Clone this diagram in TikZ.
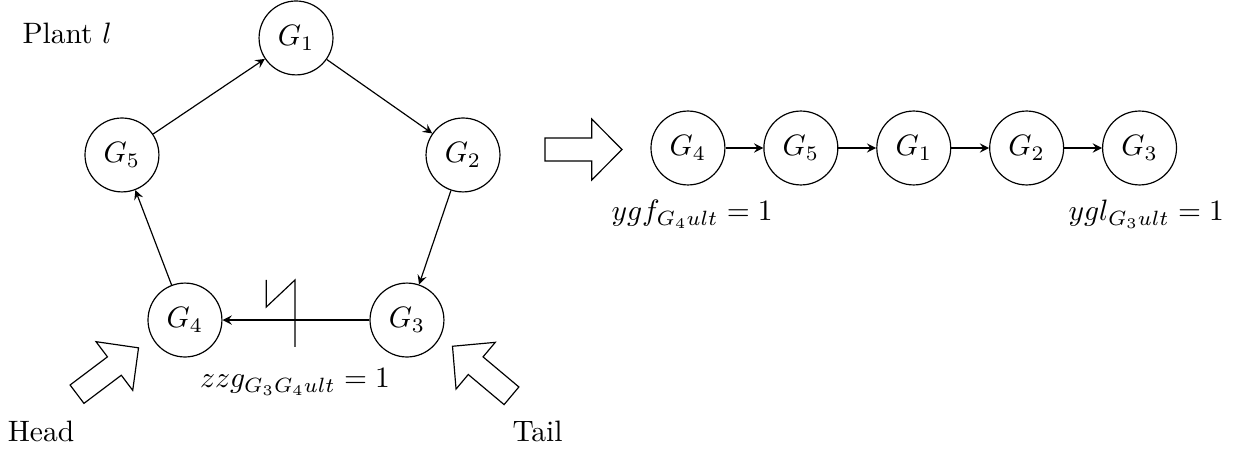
\documentclass[tikz,border=0pt]{standalone}
\usetikzlibrary{positioning}

\tikzset{
	plant/.style={circle, draw, minimum size=0.88cm, inner sep=0pt},
	link/.style={->, >=stealth},
	fat arrow/.pic={
		\draw (-0.4585,-0.137) -- (0.0985,-0.137) -- (0.0985,-0.363) -- (0.4585,0)
			-- (0.0985,0.363) -- (0.0985,0.137) -- (-0.4585,0.137) -- cycle;
	}
}

\begin{document}
\begin{tikzpicture}
	\useasboundingbox (0,0) rectangle (14.762,5.381);

	% Ring of generators
	\node at (0.80,4.98) {Plant $l$};
	\node[plant] (g1) at (3.524,4.929) {$G_1$};
	\node[plant] (g2) at (5.512,3.536) {$G_2$};
	\node[plant] (g3) at (4.845,1.571) {$G_3$};
	\node[plant] (g4) at (2.202,1.571) {$G_4$};
	\node[plant] (g5) at (1.452,3.536) {$G_5$};

	\draw[link] (g5) -- (g1);
	\draw[link] (g1) -- (g2);
	\draw[link] (g2) -- (g3);
	\draw[link] (g3) -- (g4);
	\draw[link] (g4) -- (g5);

	% Cut on the G3-G4 link
	\draw (3.17,2.048) -- (3.17,1.726) -- (3.512,2.048) -- (3.512,1.25);
	\node (zzg) at (3.512,0.833) {$zzg_{G_3G_4ult} = 1$};

	% Head and tail markers
	\pic[rotate=37] at (1.283,0.964) {fat arrow};
	\pic[rotate=140] at (5.738,0.964) {fat arrow};
	\node (head) at (0.488,0.25) {Head};
	\node (tail) at (6.40,0.25) {Tail};

	% Opened ring
	\pic at (6.946,3.601) {fat arrow};

	\node[plant] (c4) at (8.190,3.619) {$G_4$};
	\node[plant, right=0.45cm of c4] (c5) {$G_5$};
	\node[plant, right=0.45cm of c5] (c1) {$G_1$};
	\node[plant, right=0.45cm of c1] (c2) {$G_2$};
	\node[plant, right=0.45cm of c2] (c3) {$G_3$};

	\draw[link] (c4) -- (c5);
	\draw[link] (c5) -- (c1);
	\draw[link] (c1) -- (c2);
	\draw[link] (c2) -- (c3);

	\node[below=0.05cm of c4, xshift=0.05cm] (ygf) {$ygf_{G_4ult} = 1$};
	\node[below=0.05cm of c3, xshift=0.08cm] (ygl) {$ygl_{G_3ult} = 1$};
\end{tikzpicture}
\end{document}
